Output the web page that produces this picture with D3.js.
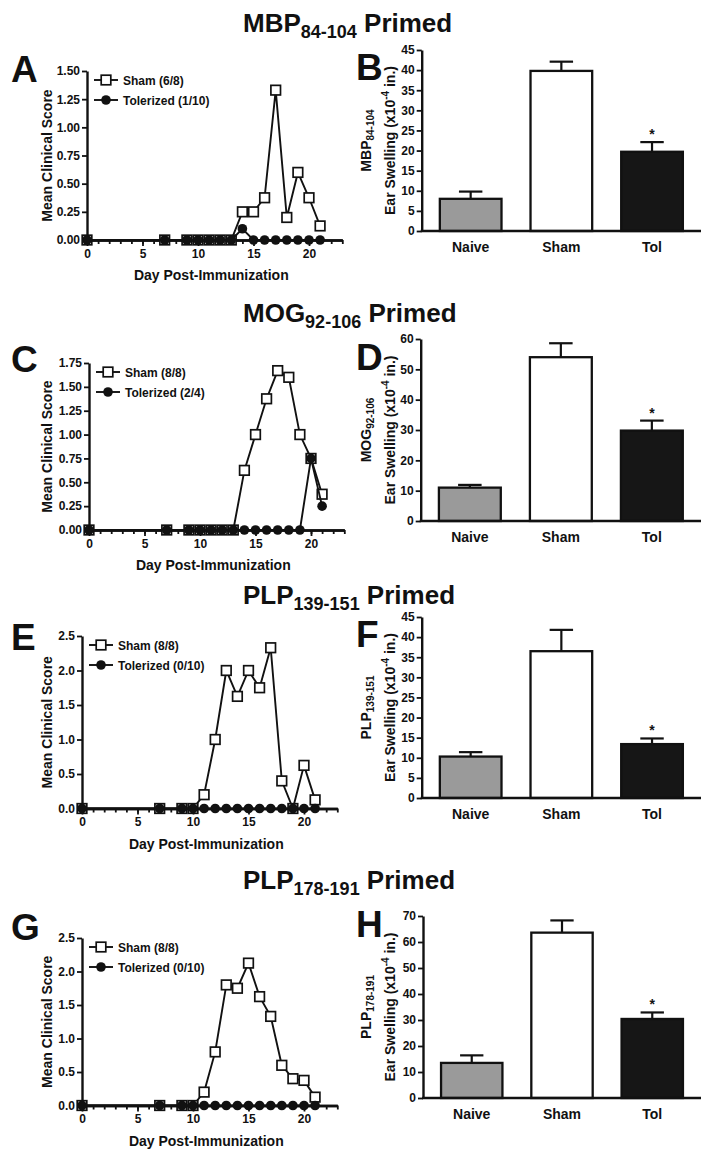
<!DOCTYPE html>
<html><head><meta charset="utf-8">
<script src="https://cdn.jsdelivr.net/npm/d3@7"></script>
<style>
body{margin:0;background:#fff;}
svg{display:block;font-family:"Liberation Sans",Arial,Helvetica,sans-serif;font-weight:bold;}
</style></head><body>
<svg id="chart" width="713" height="1154"></svg>
<script>
// ---------- DATA ----------
const days = [0,7,9,10,11,12,13,14,15,16,17,18,19,20,21];
const shamA = [0,0,0,0,0,0,0,0.25,0.25,0.375,1.33,0.2,0.6,0.375,0.125];
const tolA  = [0,0,0,0,0,0,0,0.1,0,0,0,0,0,0,0];
const shamC = [0,0,0,0,0,0,0,0.625,1.0,1.375,1.67,1.6,1.0,0.75,0.375];
const tolC  = [0,0,0,0,0,0,0,0,0,0,0,0,0,0.75,0.25];
const shamE = [0,0,0,0,0.2,1.0,2.0,1.625,2.0,1.75,2.33,0.4,0,0.625,0.125];
const tolE  = [0,0,0,0,0,0,0,0,0,0,0,0,0,0,0];
const shamG = [0,0,0,0,0.2,0.8,1.8,1.75,2.125,1.625,1.33,0.6,0.4,0.375,0.125];
const tolG  = [0,0,0,0,0,0,0,0,0,0,0,0,0,0,0];

const legendA = ["Sham (6/8)", "Tolerized (1/10)"];
const legendC = ["Sham (8/8)", "Tolerized (2/4)"];
const legendE = ["Sham (8/8)", "Tolerized (0/10)"];
const legendG = ["Sham (8/8)", "Tolerized (0/10)"];

const ticksA = [0,0.25,0.5,0.75,1.0,1.25,1.5];
const ticksC = [0,0.25,0.5,0.75,1.0,1.25,1.5,1.75];
const ticksE = [0,0.5,1.0,1.5,2.0,2.5];
const ticksG = [0,0.5,1.0,1.5,2.0,2.5];
const dayTicks = [0,5,10,15,20];
const dayMax = 23;

const barCats = ["Naive","Sham","Tol"];
const meanB = [8.0,39.8,19.7], semB = [1.8,2.3,2.4];
const meanD = [11.0,54.0,29.8], semD = [0.9,4.6,3.3];
const meanF = [10.3,36.5,13.4], semF = [1.1,5.3,1.4];
const meanH = [13.5,63.6,30.4], semH = [2.9,4.7,2.5];
const sigFlags = [false,false,true];
const ticksB = [0,5,10,15,20,25,30,35,40,45];
const ticksD = [0,10,20,30,40,50,60];
const ticksF = [0,5,10,15,20,25,30,35,40,45];
const ticksH = [0,10,20,30,40,50,60,70];

const peptides = [["MBP","84-104"],["MOG","92-106"],["PLP","139-151"],["PLP","178-191"]];
const letters = [["A","B"],["C","D"],["E","F"],["G","H"]];

// ---------- LAYOUT ----------
const rows = [
  {titleY:32,  letL:82,  lx:87,   lTop:71,  lBot:240,   letR:80,  bx:421.7, bTop:50,  bBot:231,
   sham:shamA, tol:tolA, leg:legendA, lt:ticksA, fmt:".2f", mean:meanB, sem:semB, bt:ticksB},
  {titleY:322, letL:372, lx:89,   lTop:363, lBot:530,   letR:370, bx:420.7, bTop:339, bBot:521,
   sham:shamC, tol:tolC, leg:legendC, lt:ticksC, fmt:".2f", mean:meanD, sem:semD, bt:ticksD},
  {titleY:604, letL:650, lx:82,   lTop:636, lBot:808.5, letR:647, bx:421.7, bTop:617, bBot:798,
   sham:shamE, tol:tolE, leg:legendE, lt:ticksE, fmt:".1f", mean:meanF, sem:semF, bt:ticksF},
  {titleY:889, letL:940, lx:82,   lTop:938, lBot:1105.5,letR:937, bx:423,   bTop:916, bBot:1098,
   sham:shamG, tol:tolG, leg:legendG, lt:ticksG, fmt:".1f", mean:meanH, sem:semH, bt:ticksH}
];
const ink = "#111";
const svg = d3.select("#chart");

function styleAxis(g){
  g.selectAll(".domain").attr("stroke",ink).attr("stroke-width",2.4);
  g.selectAll(".tick line").attr("stroke",ink).attr("stroke-width",1.8);
  g.selectAll(".tick text").attr("fill",ink).style("font-size","12px").style("font-weight","bold")
    .style("font-family",'"Liberation Sans",Arial,sans-serif');
}

function square(g, x, y){
  g.append("rect").attr("x",x-4.8).attr("y",y-4.8).attr("width",9.6).attr("height",9.6)
   .attr("fill","#fff").attr("stroke",ink).attr("stroke-width",1.7);
}
function dot(g, x, y){
  g.append("circle").attr("cx",x).attr("cy",y).attr("r",4.8).attr("fill",ink);
}

rows.forEach((r, i) => {
  // Title
  const t = svg.append("text").attr("x",243).attr("y",r.titleY).attr("fill",ink)
    .style("font-size","26px");
  t.append("tspan").text(peptides[i][0]);
  t.append("tspan").attr("dy",6).style("font-size","18px").text(peptides[i][1]);
  t.append("tspan").attr("dy",-6).text(" Primed");

  // Panel letters
  svg.append("text").attr("x",11).attr("y",r.letL).attr("fill",ink).style("font-size","37px").text(letters[i][0]);
  svg.append("text").attr("x",356).attr("y",r.letR).attr("fill",ink).style("font-size","37px").text(letters[i][1]);

  // ---- Line chart ----
  const x = d3.scaleLinear().domain([0,dayMax]).range([r.lx, r.lx + 11.1*dayMax]);
  const y = d3.scaleLinear().domain([0, d3.max(r.lt)]).range([r.lBot, r.lTop]);
  const gl = svg.append("g");

  const minor = gl.append("g").attr("transform",`translate(0,${r.lBot})`)
    .call(d3.axisBottom(x).tickValues(d3.range(0,dayMax+1)).tickSize(4).tickSizeOuter(0).tickFormat(""));
  styleAxis(minor);
  const xa = gl.append("g").attr("transform",`translate(0,${r.lBot})`)
    .call(d3.axisBottom(x).tickValues(dayTicks).tickSize(6).tickSizeOuter(0).tickPadding(3));
  styleAxis(xa);
  const ya = gl.append("g").attr("transform",`translate(${r.lx},0)`)
    .call(d3.axisLeft(y).tickValues(r.lt).tickSize(5).tickSizeOuter(0).tickPadding(2).tickFormat(d3.format(r.fmt)));
  styleAxis(ya);

  gl.append("text").attr("x", x(11.2)).attr("y", r.lBot+40).attr("text-anchor","middle")
    .attr("fill",ink).style("font-size","14px").text("Day Post-Immunization");
  gl.append("text").attr("transform",`translate(52,${(r.lTop+r.lBot)/2}) rotate(-90)`)
    .attr("text-anchor","middle").attr("fill",ink).style("font-size","14px").text("Mean Clinical Score");

  const line = d3.line().x((d,j)=>x(days[j])).y(d=>y(d));
  gl.append("path").datum(r.sham).attr("d",line).attr("fill","none").attr("stroke",ink).attr("stroke-width",1.9);
  r.sham.forEach((v,j)=>square(gl, x(days[j]), y(v)));
  gl.append("path").datum(r.tol).attr("d",line).attr("fill","none").attr("stroke",ink).attr("stroke-width",1.9);
  r.tol.forEach((v,j)=>dot(gl, x(days[j]), y(v)));

  // legend
  const lgX = r.lx + 7;
  [0,1].forEach(k => {
    const ly = r.lTop + 9 + k*20;
    gl.append("line").attr("x1",lgX).attr("x2",lgX+24).attr("y1",ly).attr("y2",ly)
      .attr("stroke",ink).attr("stroke-width",1.9);
    if(k===0) square(gl, lgX+12, ly); else dot(gl, lgX+12, ly);
    gl.append("text").attr("x",lgX+29).attr("y",ly+4.5).attr("fill",ink).style("font-size","12px").text(r.leg[k]);
  });

  // ---- Bar chart ----
  const gb = svg.append("g");
  const xb = d3.scaleBand().domain(barCats).range([r.bx, 701]).paddingInner(0.32).paddingOuter(0.2);
  const yb = d3.scaleLinear().domain([0, d3.max(r.bt)]).range([r.bBot, r.bTop]);
  const fills = ["#9a9a9a","#ffffff","#161616"];

  const yba = gb.append("g").attr("transform",`translate(${r.bx},0)`)
    .call(d3.axisLeft(yb).tickValues(r.bt).tickSize(5).tickSizeOuter(0).tickPadding(2));
  styleAxis(yba);

  barCats.forEach((c,j)=>{
    const cx = xb(c) + xb.bandwidth()/2;
    const top = yb(r.mean[j]), et = yb(r.mean[j]+r.sem[j]);
    const cw = xb.bandwidth()*0.38;
    gb.append("line").attr("x1",cx).attr("x2",cx).attr("y1",top).attr("y2",et).attr("stroke",ink).attr("stroke-width",2.2);
    gb.append("line").attr("x1",cx-cw/2).attr("x2",cx+cw/2).attr("y1",et).attr("y2",et).attr("stroke",ink).attr("stroke-width",2.2);
    gb.append("rect").attr("x",xb(c)).attr("y",top).attr("width",xb.bandwidth()).attr("height",r.bBot-top)
      .attr("fill",fills[j]).attr("stroke",ink).attr("stroke-width",2.3);
    gb.append("text").attr("x",cx).attr("y",r.bBot+21).attr("text-anchor","middle").attr("fill",ink)
      .style("font-size","14px").text(c);
    if(sigFlags[j]) gb.append("text").attr("x",cx).attr("y",et-3).attr("text-anchor","middle").attr("fill",ink)
      .style("font-size","14px").text("*");
  });
  gb.append("line").attr("x1",r.bx-1).attr("x2",701).attr("y1",r.bBot).attr("y2",r.bBot).attr("stroke",ink).attr("stroke-width",2.4);

  const yc = (r.bTop + r.bBot)/2;
  const l1 = gb.append("text").attr("transform",`translate(371,${yc}) rotate(-90)`).attr("text-anchor","middle")
    .attr("fill",ink).style("font-size","14px");
  l1.append("tspan").text(peptides[i][0]);
  l1.append("tspan").attr("dy",3).style("font-size","10px").text(peptides[i][1]);
  const l2 = gb.append("text").attr("transform",`translate(395,${yc}) rotate(-90)`).attr("text-anchor","middle")
    .attr("fill",ink).style("font-size","14px");
  l2.append("tspan").text("Ear Swelling (x10");
  l2.append("tspan").attr("dy",-6).style("font-size","10px").text("-4");
  l2.append("tspan").attr("dy",6).text(" in.)");
});
</script>
</body></html>
